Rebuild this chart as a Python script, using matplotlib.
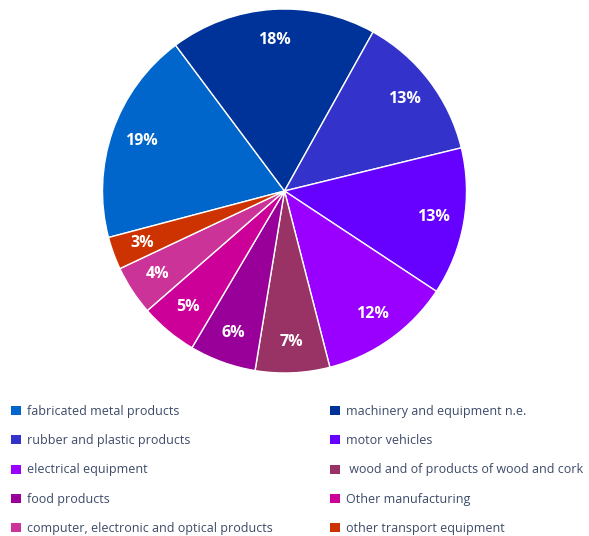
import matplotlib.pyplot as plt
from matplotlib.patches import Patch

sectors = [
    'fabricated metal products',
    'machinery and equipment n.e.',
    'rubber and plastic products',
    'motor vehicles',
    'electrical equipment',
    ' wood and of products of wood and cork',
    'food products',
    'Other manufacturing',
    'computer, electronic and optical products',
    'other transport equipment',
]
shares = [18.9, 18.3, 13.1, 13.1, 11.7, 6.6, 5.9, 5.1, 4.4, 2.9]
colors = ['#0066cc', '#003399', '#3333cc', '#6600ff', '#9900ff',
          '#993366', '#990099', '#cc0099', '#cc3399', '#cc3300']

plt.rcParams['font.family'] = ['Open Sans', 'DejaVu Sans']

W, H = 589, 536
fig = plt.figure(figsize=(W / 100, H / 100), dpi=100)
cx, cy, r = 284.5, 191, 182
ax = fig.add_axes([(cx - r) / W, (H - cy - r) / H, 2 * r / W, 2 * r / H])

wedges, _, autotexts = ax.pie(
    shares, colors=colors, startangle=194.8, counterclock=False,
    autopct=lambda p: f'{p:.0f}%', pctdistance=0.83,
    wedgeprops=dict(edgecolor='white', linewidth=1),
    textprops=dict(color='white', fontsize=11.5, fontweight='bold'))
ax.set_xlim(-1, 1)
ax.set_ylim(-1, 1)
ax.set_aspect('equal')

# legend in two columns, row-major like the original
order = list(range(0, 10, 2)) + list(range(1, 10, 2))
handles = [Patch(facecolor=colors[i], edgecolor='none') for i in order]
labels = [sectors[i] for i in order]
leg = fig.legend(handles, labels, ncol=2, loc='upper left',
                 bbox_to_anchor=(0.0, 1 - 393.5 / H), frameon=False,
                 fontsize=9, handlelength=0.75, handleheight=0.75,
                 handletextpad=0.5, columnspacing=4.6, labelspacing=1.31,
                 labelcolor='#3c4a68')

fig.savefig('out.png', dpi=100)
